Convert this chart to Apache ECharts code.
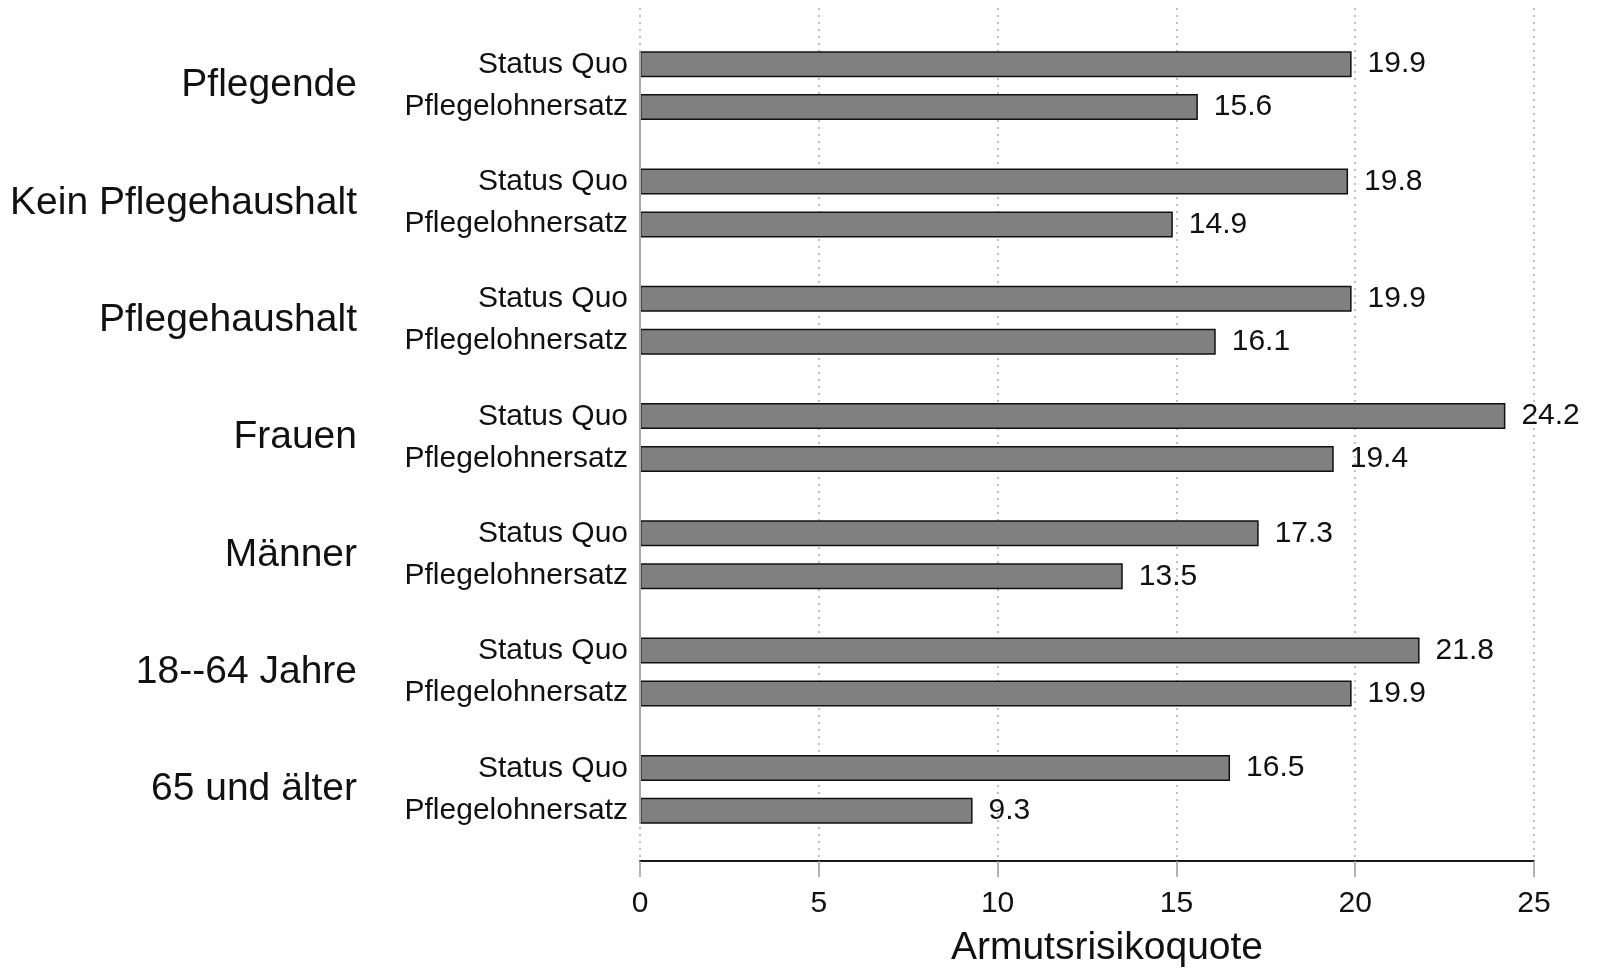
<!DOCTYPE html>
<html>
<head>
<meta charset="utf-8">
<script src="https://cdn.jsdelivr.net/npm/echarts@6/dist/echarts.min.js"></script>
<style>
html,body{margin:0;padding:0;background:#fff;}
#chart{width:1598px;height:973px;}
</style>
</head>
<body>
<div id="chart"></div>
<script>
const groups = ['Pflegende', 'Kein Pflegehaushalt', 'Pflegehaushalt', 'Frauen', 'Männer', '18--64 Jahre', '65 und älter'];
const seriesNames = ['Status Quo', 'Pflegelohnersatz'];
const statusQuo = [19.9, 19.8, 19.9, 24.2, 17.3, 21.8, 16.5];
const pflegelohnersatz = [15.6, 14.9, 16.1, 19.4, 13.5, 19.9, 9.3];
const xTicks = { min: 0, max: 25, interval: 5 };
const axisTitle = 'Armutsrisikoquote';

const FONT = "'Liberation Sans', Arial, Helvetica, sans-serif";
const chart = echarts.init(document.getElementById('chart'), null, { renderer: 'canvas' });

function barSeries(name, values) {
  return {
    name: name,
    type: 'bar',
    xAxisIndex: 0,
    yAxisIndex: 0,
    data: values,
    barWidth: 26,
    barGap: '65%',
    itemStyle: { color: '#808080', borderColor: '#111', borderWidth: 1.5 },
    label: {
      show: true,
      position: 'right',
      distance: 16,
      color: '#111',
      fontFamily: FONT,
      fontSize: 30,
      formatter: p => p.value.toFixed(1)
    },
    silent: true,
    animation: false
  };
}

const option = {
  animation: false,
  backgroundColor: '#fff',
  grid: [
    { left: 640, width: 894, top: 27, height: 821 },
    { left: 640, width: 894, top: 8, height: 856 },
    { left: 640, width: 894, top: 52, height: 771 }
  ],
  xAxis: [
    { gridIndex: 0, type: 'value', min: xTicks.min, max: xTicks.max, interval: xTicks.interval, show: false },
    {
      gridIndex: 1, type: 'value', min: xTicks.min, max: xTicks.max, interval: xTicks.interval,
      position: 'bottom',
      axisLine: { show: true, onZero: false, lineStyle: { color: '#1a1a1a', width: 1.8 } },
      axisTick: { show: true, length: 16, lineStyle: { color: '#999', width: 1.5 } },
      axisLabel: { show: true, margin: 28, color: '#111', fontFamily: FONT, fontSize: 30 },
      splitLine: { show: true, lineStyle: { color: '#aaa', width: 1.5, type: [2, 5] } },
      name: axisTitle,
      nameLocation: 'middle',
      nameGap: 68,
      nameTextStyle: { color: '#111', fontFamily: FONT, fontSize: 39, padding: [0, 0, 0, 40] }
    },
    { gridIndex: 2, type: 'value', min: 0, max: 1, show: false }
  ],
  yAxis: [
    {
      gridIndex: 0, type: 'category', data: groups, inverse: true,
      axisLine: { show: false }, axisTick: { show: false }, splitLine: { show: false },
      axisLabel: { show: true, margin: 283, color: '#111', fontFamily: FONT, fontSize: 39, align: 'right', padding: [6, 0, 0, 0] }
    },
    {
      gridIndex: 0, type: 'category', data: groups, inverse: true, position: 'left',
      axisLine: { show: false }, axisTick: { show: false }, splitLine: { show: false },
      axisLabel: {
        show: true, margin: 12, color: '#111', fontFamily: FONT, fontSize: 30, lineHeight: 42, align: 'right',
        formatter: () => seriesNames.join('\n')
      }
    },
    { gridIndex: 1, type: 'value', min: 0, max: 1, show: false },
    {
      gridIndex: 2, type: 'value', min: 0, max: 1, z: 5,
      axisLine: { show: true, onZero: false, lineStyle: { color: '#aaa', width: 2 } },
      axisTick: { show: false }, axisLabel: { show: false }, splitLine: { show: false }
    }
  ],
  series: [
    barSeries(seriesNames[0], statusQuo),
    barSeries(seriesNames[1], pflegelohnersatz)
  ]
};
chart.setOption(option);
</script>
</body>
</html>
